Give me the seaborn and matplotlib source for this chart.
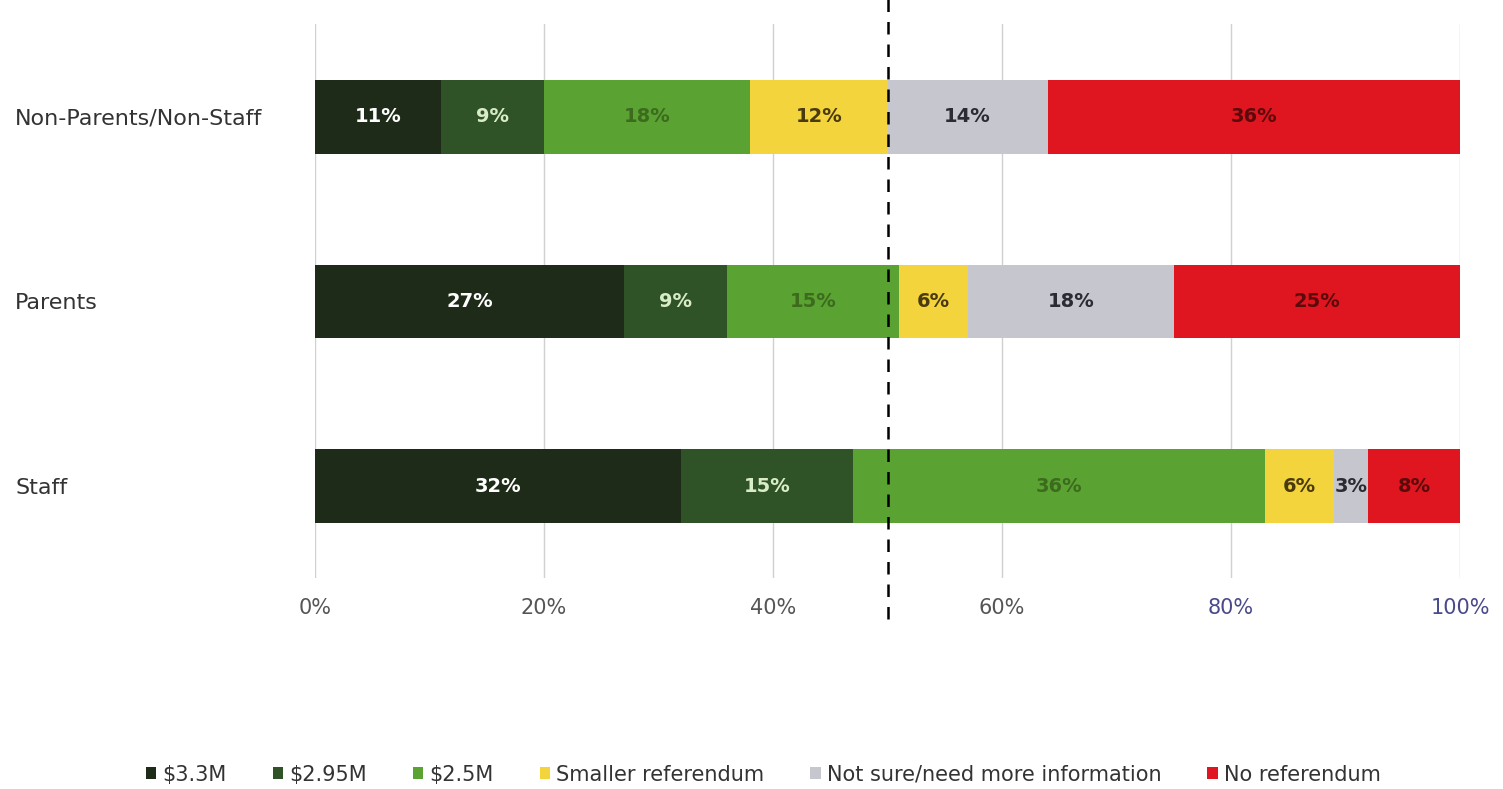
import numpy as np
import pandas as pd
import matplotlib
matplotlib.use("Agg")
import matplotlib.pyplot as plt
import seaborn as sns

# data (percent of respondents)
groups = ["Non-Parents/Non-Staff", "Parents", "Staff"]
options = ["$3.3M", "$2.95M", "$2.5M", "Smaller referendum",
           "Not sure/need more information", "No referendum"]
v_33 = [11, 27, 32]
v_295 = [9, 9, 15]
v_25 = [18, 15, 36]
v_smaller = [12, 6, 6]
v_notsure = [14, 18, 3]
v_noref = [36, 25, 8]

colors = ["#1e2b18", "#2f5226", "#5aa332", "#f3d43c", "#c6c6cf", "#df1620"]
text_colors = ["white", "#d8ecc8", "#3d6b1e", "#4a3a10", "#2b2b33", "#5a0a0a"]

series = [v_33, v_295, v_25, v_smaller, v_notsure, v_noref]
vals = np.array(series, dtype=float)
cum = vals.cumsum(axis=0)

sns.set_style("white")
plt.rcParams["font.family"] = ["DejaVu Sans"]

fig = plt.figure(figsize=(15.03, 7.89), dpi=100)
ax = fig.add_axes([0.2096, 0.2668, 0.7618, 0.7022])

# stacked bars: draw cumulative totals from the largest down
for i in range(len(options) - 1, -1, -1):
    df = pd.DataFrame({"group": groups, "value": cum[i]})
    sns.barplot(data=df, x="value", y="group", color=colors[i], orient="h",
                width=0.4, ax=ax, saturation=1, label=options[i],
                edgecolor="none")

# segment labels
for i in range(len(options)):
    for j in range(len(groups)):
        start = cum[i][j] - vals[i][j]
        ax.text(start + vals[i][j] / 2, j, f"{int(vals[i][j])}%",
                ha="center", va="center", fontsize=14, fontweight="bold",
                color=text_colors[i])

ax.set_xlim(0, 100)
ax.set_ylim(2.5, -0.5)
ax.set_xticks([0, 20, 40, 60, 80, 100])
ax.set_xticklabels(["0%", "20%", "40%", "60%", "80%", "100%"])
ax.xaxis.grid(True, color="#d0d0d0", linewidth=1)
ax.set_axisbelow(True)
for s in ax.spines.values():
    s.set_visible(False)
ax.tick_params(axis="x", length=0, pad=14, labelsize=15, labelcolor="#555555")
# category labels are left-aligned near the figure edge
ax.tick_params(axis="y", length=0, pad=216, labelsize=16, labelcolor="#333333")
for lab in ax.get_yticklabels():
    lab.set_horizontalalignment("left")
for lab in ax.get_xticklabels()[4:]:
    lab.set_color("#4a4a8a")
ax.set_xlabel("")
ax.set_ylabel("")

# 50% reference line
ax.plot([50, 50], [-0.65, 2.75], color="black", linestyle=(0, (5, 4)),
        linewidth=1.8, clip_on=False, zorder=5)

# legend in original order
handles, labels = ax.get_legend_handles_labels()
order = [labels.index(o) for o in options]
ax.legend([handles[k] for k in order], [labels[k] for k in order],
          loc="center", bbox_to_anchor=(0.508, 0.018),
          bbox_transform=fig.transFigure, ncol=6, frameon=False,
          fontsize=15, handlelength=0.5, handleheight=0.5,
          handletextpad=0.3, columnspacing=2.2, labelcolor="#333333")

fig.savefig("out.png", dpi=100)
